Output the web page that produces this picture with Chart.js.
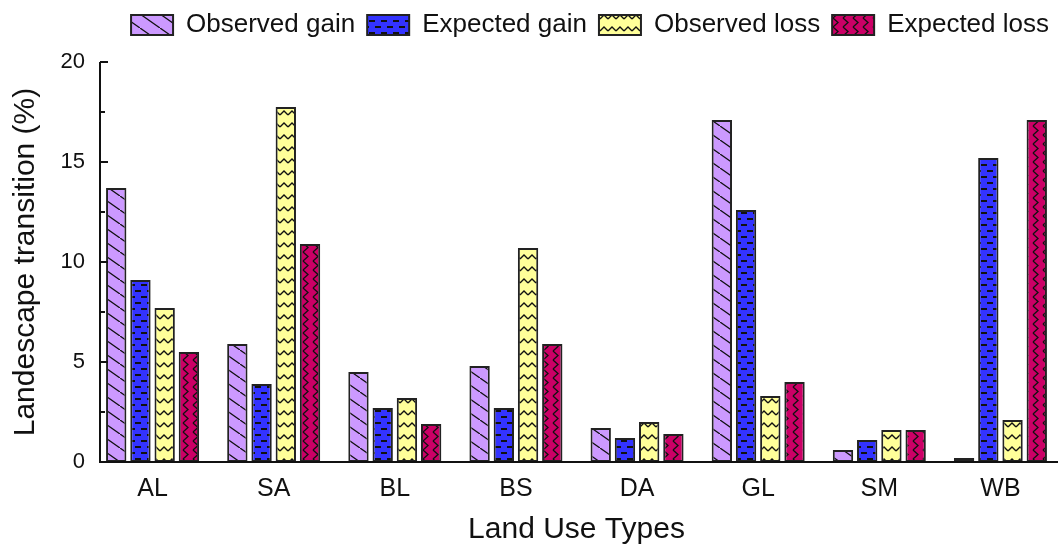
<!DOCTYPE html>
<html>
<head>
<meta charset="utf-8">
<script src="https://cdn.jsdelivr.net/npm/chart.js@4"></script>
<style>
  html, body { margin: 0; padding: 0; background: #fff; }
  #wrap { width: 1061px; height: 545px; }
</style>
</head>
<body>
<div id="wrap"><canvas id="chart" width="1061" height="545"></canvas></div>
<script>
const categories = ['AL', 'SA', 'BL', 'BS', 'DA', 'GL', 'SM', 'WB'];
const seriesNames = ['Observed gain', 'Expected gain', 'Observed loss', 'Expected loss'];
const observedGain = [13.7, 5.9, 4.5, 4.8, 1.7, 17.1, 0.6, 0.2];
const expectedGain = [9.1, 3.9, 2.7, 2.7, 1.2, 12.6, 1.1, 15.2];
const observedLoss = [7.7, 17.75, 3.2, 10.7, 2.0, 3.3, 1.6, 2.1];
const expectedLoss = [5.5, 10.9, 1.9, 5.9, 1.4, 4.0, 1.6, 17.1];
const yTicks = [0, 5, 10, 15, 20];

const FONT = "'Liberation Sans', Arial, sans-serif";

// build a hatch pattern on a small tile
function makePattern(w, h, bg, draw) {
  const c = document.createElement('canvas');
  c.width = w; c.height = h;
  const g = c.getContext('2d');
  g.fillStyle = bg;
  g.fillRect(0, 0, w, h);
  g.strokeStyle = '#111';
  g.lineWidth = 1.3;
  g.beginPath();
  draw(g);
  g.stroke();
  return g.createPattern(c, 'repeat');
}

const ctx = document.getElementById('chart').getContext('2d');

const diag = makePattern(20, 14, '#cc99ff', g => {
  g.moveTo(0, 0); g.lineTo(20, 14);
  g.moveTo(-20, -14); g.lineTo(0, 0);
  g.moveTo(20, 14); g.lineTo(40, 28);
});
const dashes = makePattern(12, 12, '#3333ff', g => {
  g.lineWidth = 2;
  g.moveTo(3, 3); g.lineTo(9, 3);
  g.moveTo(9, 9); g.lineTo(12, 9);
  g.moveTo(0, 9); g.lineTo(3, 9);
});
const zigH = makePattern(8, 12, '#ffff99', g => {
  g.moveTo(0, 7); g.lineTo(4, 3); g.lineTo(8, 7);
});
const zigV = makePattern(10, 9, '#cc0066', g => {
  g.moveTo(3, 0); g.lineTo(8, 4.5); g.lineTo(3, 9);
});

// inward ticks and axis lines
const axesPlugin = {
  id: 'axesPlugin',
  afterDraw(chart) {
    const { ctx, chartArea, scales } = chart;
    const ax = chartArea.left + 8;
    const y0 = scales.y.getPixelForValue(0);
    const yTop = scales.y.getPixelForValue(20);
    ctx.save();
    ctx.strokeStyle = '#111';
    ctx.lineWidth = 2;
    ctx.beginPath();
    ctx.moveTo(ax, yTop);
    ctx.lineTo(ax, y0);
    ctx.lineTo(chartArea.right - 3, y0);
    scales.y.ticks.forEach(t => {
      const py = scales.y.getPixelForValue(t.value);
      const len = t.value % 5 === 0 ? 8 : 5;
      ctx.moveTo(ax, py);
      ctx.lineTo(ax + len, py);
    });
    ctx.stroke();
    ctx.restore();
  }
};

new Chart(ctx, {
  type: 'bar',
  data: {
    labels: categories,
    datasets: [
      { label: seriesNames[0], data: observedGain, backgroundColor: diag },
      { label: seriesNames[1], data: expectedGain, backgroundColor: dashes },
      { label: seriesNames[2], data: observedLoss, backgroundColor: zigH },
      { label: seriesNames[3], data: expectedLoss, backgroundColor: zigV }
    ].map(d => Object.assign(d, {
      borderColor: '#222',
      borderWidth: 2,
      borderSkipped: false,
      categoryPercentage: 0.8,
      barPercentage: 0.84
    }))
  },
  options: {
    responsive: false,
    animation: false,
    layout: { padding: { left: 0, right: 0, top: 0, bottom: 0 } },
    plugins: {
      legend: {
        position: 'top',
        align: 'end',
        labels: {
          font: { family: FONT, size: 26 },
          color: '#111',
          boxWidth: 42,
          boxHeight: 20,
          padding: 12
        }
      },
      subtitle: {
        display: true,
        text: ' ',
        weight: 500,
        padding: 0,
        font: { size: 10, lineHeight: 1.4 }
      },
      tooltip: { enabled: false }
    },
    scales: {
      x: {
        grid: { display: false, drawTicks: false },
        border: { display: false },
        ticks: {
          font: { family: FONT, size: 25 },
          color: '#111',
          padding: 12
        },
        title: {
          display: true,
          text: 'Land Use Types',
          font: { family: FONT, size: 30, lineHeight: 1 },
          color: '#111',
          padding: { top: 0, bottom: 0 }
        },
        afterFit(scale) { scale.height = 83; }
      },
      y: {
        min: 0,
        max: 20,
        grid: { display: false, drawTicks: false },
        border: { display: false },
        ticks: {
          stepSize: 2.5,
          font: { family: FONT, size: 22 },
          color: '#111',
          padding: 7,
          callback: v => yTicks.includes(v) ? v : ''
        },
        title: {
          display: true,
          text: 'Landescape transition (%)',
          font: { family: FONT, size: 30, lineHeight: 1 },
          color: '#111',
          padding: { top: 11, bottom: 0 }
        },
        afterFit(scale) { scale.width = 92; }
      }
    }
  },
  plugins: [axesPlugin]
});
</script>
</body>
</html>
